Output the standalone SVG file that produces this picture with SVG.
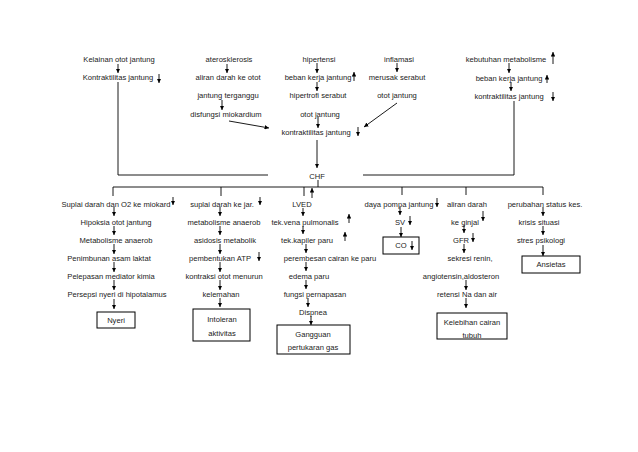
<svg xmlns="http://www.w3.org/2000/svg" width="638" height="452" viewBox="0 0 638 452">
<defs>
<marker id="ah" viewBox="0 0 6 6" refX="6" refY="3" markerWidth="4.5" markerHeight="4.5" markerUnits="userSpaceOnUse" orient="auto"><path d="M0,0 L6,3 L0,6 z" fill="#000"/></marker>
<style>
text{font-family:"Liberation Sans",Arial,sans-serif;font-size:7.6px;fill:#222;text-anchor:middle}
.c line,.c polyline{stroke:#000;stroke-width:0.9;fill:none}
.c .a{marker-end:url(#ah)}
rect.b{fill:#fff;stroke:#000;stroke-width:1}
</style>
</defs>
<rect width="638" height="452" fill="#fff"/>
<g id="n-kelainan"><text x="119" y="61.8">Kelainan otot jantung</text><text x="118" y="79.8">Kontraktilitas jantung</text></g>
<g id="n-atero"><text x="229" y="61.8">aterosklerosis</text><text x="228" y="79.8">aliran darah ke otot</text><text x="228" y="97.8">jantung terganggu</text><text x="226" y="116.8">disfungsi miokardium</text></g>
<g id="n-hipertensi"><text x="319" y="61.8">hipertensi</text><text x="318" y="79.8">beban kerja jantung</text><text x="318" y="97.8">hipertrofi serabut</text><text x="320" y="116.8">otot jantung</text><text x="316" y="134.8">kontraktilitas jantung</text></g>
<g id="n-inflamasi"><text x="399" y="61.8">inflamasi</text><text x="397" y="79.8">merusak serabut</text><text x="397" y="97.8">otot jantung</text></g>
<g id="n-kebutuhan"><text x="506" y="61.8">kebutuhan metabolisme</text><text x="509" y="80.8">beban kerja jantung</text><text x="509" y="98.8">kontraktilitas jantung</text></g>
<g id="n-chf"><text x="317" y="178.8">CHF</text></g>
<g id="n-col1"><text x="116" y="206.8">Suplai darah dan O2 ke miokard</text><text x="116" y="224.8">Hipoksia otot jantung</text><text x="116" y="242.8">Metabolisme anaerob</text><text x="109" y="260.8">Penimbunan asam laktat</text><text x="111" y="278.8">Pelepasan mediator kimia</text><text x="117" y="296.8">Persepsi nyeri di hipotalamus</text></g>
<g id="n-nyeri"><rect class="b" x="97" y="312" width="38" height="16"/><text x="116" y="322.8">Nyeri</text></g>
<g id="n-col2"><text x="222" y="206.8">suplai darah ke jar.</text><text x="224" y="224.8">metabolisme anaerob</text><text x="225" y="242.8">asidosis metabolik</text><text x="220" y="260.8">pembentukan ATP</text><text x="224" y="278.8">kontraksi otot menurun</text><text x="221" y="296.8">kelemahan</text></g>
<g id="n-intoleran"><rect class="b" x="193" y="309" width="57" height="32"/><text x="222" y="321.8">Intoleran</text><text x="222" y="335.8">aktivitas</text></g>
<g id="n-col3"><text x="302" y="206.8">LVED</text><text x="305" y="224.8">tek.vena pulmonalis</text><text x="307" y="242.8">tek.kapiler paru</text><text x="330" y="260.8">perembesan cairan ke paru</text><text x="309" y="278.8">edema paru</text><text x="315" y="296.8">fungsi pernapasan</text><text x="313" y="314.8">Dispnea</text></g>
<g id="n-gangguan"><rect class="b" x="277" y="325" width="73" height="29"/><text x="313" y="336.8">Gangguan</text><text x="313" y="350.3">pertukaran gas</text></g>
<g id="n-col4"><text x="399" y="206.8">daya pompa jantung</text><text x="400" y="224.8">SV</text></g>
<g id="n-co"><rect class="b" x="383" y="237" width="36" height="17"/><text x="401" y="247.8">CO</text></g>
<g id="n-col5"><text x="467" y="206.8">aliran darah</text><text x="465" y="224.8">ke ginjal</text><text x="461" y="242.8">GFR</text><text x="470" y="260.8">sekresi renin,</text><text x="461" y="278.8">angiotensin,aldosteron</text><text x="467" y="296.8">retensi Na dan air</text></g>
<g id="n-kelebihan"><rect class="b" x="437" y="313" width="70" height="26"/><text x="472" y="324.8">Kelebihan cairan</text><text x="472" y="338.3">tubuh</text></g>
<g id="n-col6"><text x="545" y="206.8">perubahan status kes.</text><text x="539" y="224.8">krisis situasi</text><text x="541" y="242.8">stres psikologi</text></g>
<g id="n-ansietas"><rect class="b" x="522" y="256" width="58" height="17"/><text x="551" y="267.3">Ansietas</text></g>
<g id="connectors" class="c">
<line class="a" x1="118" y1="64" x2="118" y2="73"/>
<line class="a" x1="227" y1="64" x2="227" y2="73"/>
<line class="a" x1="222" y1="100" x2="222" y2="110"/>
<line class="a" x1="229" y1="121" x2="269" y2="128"/>
<line class="a" x1="317" y1="63" x2="317" y2="73"/>
<line class="a" x1="317" y1="82" x2="317" y2="91"/>
<line class="a" x1="318" y1="117" x2="318" y2="128"/>
<line class="a" x1="397" y1="63" x2="397" y2="72"/>
<line class="a" x1="397" y1="103" x2="364" y2="127"/>
<line class="a" x1="509" y1="63" x2="509" y2="73"/>
<line class="a" x1="511" y1="82" x2="511" y2="91"/>
<line class="a" x1="317" y1="140" x2="317" y2="168"/>
<polyline points="118,82 118,175 268,175"/>
<polyline points="514,101 514,175 363,175"/>
<line x1="318" y1="180" x2="318" y2="187"/>
<line x1="113" y1="187" x2="543" y2="187"/>
<line x1="113" y1="187" x2="113" y2="196"/>
<line x1="221" y1="187" x2="221" y2="196"/>
<line x1="304" y1="187" x2="304" y2="196"/>
<line x1="402" y1="187" x2="402" y2="195"/>
<line x1="466" y1="187" x2="466" y2="195"/>
<line x1="543" y1="187" x2="543" y2="195"/>
<line class="a" x1="159" y1="74" x2="159" y2="83"/>
<line class="a" x1="354" y1="81" x2="354" y2="72"/>
<line class="a" x1="553" y1="64" x2="553" y2="52"/>
<line class="a" x1="547" y1="83" x2="547" y2="75"/>
<line class="a" x1="553" y1="92" x2="553" y2="101"/>
<line class="a" x1="358" y1="127" x2="358" y2="136"/>
<line class="a" x1="173" y1="197" x2="173" y2="205"/>
<line class="a" x1="260" y1="197" x2="260" y2="205"/>
<line class="a" x1="312" y1="198" x2="312" y2="188"/>
<line class="a" x1="349" y1="223" x2="349" y2="214"/>
<line class="a" x1="345" y1="241" x2="345" y2="232"/>
<line class="a" x1="437" y1="198" x2="437" y2="207"/>
<line class="a" x1="410" y1="216" x2="410" y2="225"/>
<line class="a" x1="412" y1="241" x2="412" y2="250"/>
<line class="a" x1="483" y1="211" x2="483" y2="221"/>
<line class="a" x1="473" y1="233" x2="473" y2="242"/>
<line class="a" x1="259" y1="252" x2="259" y2="261"/>
<line class="a" x1="114" y1="207" x2="114" y2="216"/>
<line class="a" x1="114" y1="226" x2="114" y2="235"/>
<line class="a" x1="114" y1="244" x2="114" y2="254"/>
<line class="a" x1="114" y1="262" x2="114" y2="272"/>
<line class="a" x1="114" y1="280" x2="114" y2="290"/>
<line class="a" x1="114" y1="299" x2="114" y2="309"/>
<line class="a" x1="220" y1="207" x2="220" y2="216"/>
<line class="a" x1="220" y1="226" x2="220" y2="235"/>
<line class="a" x1="220" y1="244" x2="220" y2="254"/>
<line class="a" x1="220" y1="262" x2="220" y2="272"/>
<line class="a" x1="220" y1="280" x2="220" y2="290"/>
<line class="a" x1="220" y1="298" x2="220" y2="307"/>
<line class="a" x1="303" y1="208" x2="303" y2="216"/>
<line class="a" x1="303" y1="226" x2="303" y2="234"/>
<line class="a" x1="306" y1="244" x2="306" y2="253"/>
<line class="a" x1="306" y1="262" x2="306" y2="271"/>
<line class="a" x1="306" y1="280" x2="306" y2="289"/>
<line class="a" x1="308" y1="298" x2="308" y2="307"/>
<line class="a" x1="311" y1="316" x2="311" y2="325"/>
<line class="a" x1="400" y1="207" x2="400" y2="215"/>
<line class="a" x1="401" y1="227" x2="401" y2="237"/>
<line class="a" x1="464" y1="225" x2="464" y2="233"/>
<line class="a" x1="464" y1="244" x2="464" y2="253"/>
<line class="a" x1="466" y1="280" x2="466" y2="290"/>
<line class="a" x1="466" y1="298" x2="466" y2="308"/>
<line class="a" x1="543" y1="207" x2="543" y2="216"/>
<line class="a" x1="543" y1="226" x2="543" y2="235"/>
<line class="a" x1="543" y1="245" x2="543" y2="256"/>
</g>
</svg>
